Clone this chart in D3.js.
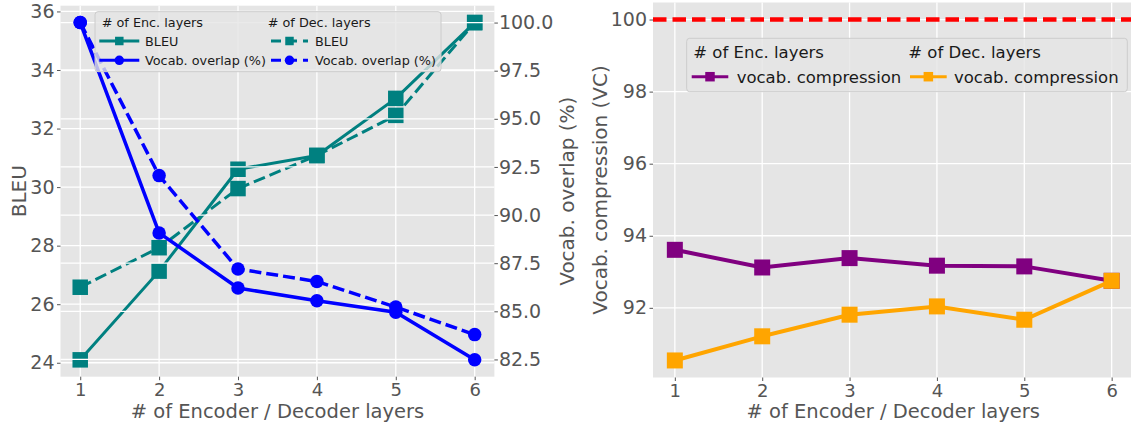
<!DOCTYPE html>
<html>
   <head>
      <script src="https://d3js.org/d3.v7.min.js"></script>
   </head>

   <style>
      body { margin: 0; background: #fff; }
      text { font-family: 'DejaVu Sans', sans-serif; }
   </style>
   <body>
      <script>
         // data
         let layers = [1, 2, 3, 4, 5, 6];
         let bleuEnc = [24.1, 27.13, 30.61, 31.08, 33.03, 35.62];
         let bleuDec = [26.58, 27.93, 29.95, 31.08, 32.45, 35.62];
         let overlapEnc = [100.0, 89.07, 86.21, 85.55, 84.95, 82.48];
         let overlapDec = [100.0, 92.05, 87.2, 86.55, 85.22, 83.79];
         let vcEnc = [93.61, 93.12, 93.38, 93.17, 93.15, 92.75];
         let vcDec = [90.54, 91.21, 91.81, 92.04, 91.67, 92.75];
         let vcRef = 100;
         let bleuTicks = [24, 26, 28, 30, 32, 34, 36];
         let overlapTicks = [82.5, 85, 87.5, 90, 92.5, 95, 97.5, 100];
         let vcTicks = [92, 94, 96, 98, 100];

         let bg = '#E5E5E5', tickColor = '#555555';
         let teal = '#008080', blue = '#0000FF', purple = '#800080', orange = '#FFA500';

         // matplotlib style 5% margin around the data
         let pad = (vals) => {
            let [lo, hi] = d3.extent(vals);
            let m = (hi - lo) * 0.05;
            return [lo - m, hi + m];
         };

         let svg = d3.select('body').append('svg').attr('width', 1131).attr('height', 426);

         let L = {x0: 60.5, x1: 494.4, y0: 5.7, y1: 376.7};
         let R = {x0: 653, x1: 1133.5, y0: 2.5, y1: 377.5};

         let xL = d3.scaleLinear().domain(pad(layers)).range([L.x0, L.x1]);
         let yBleu = d3.scaleLinear().domain(pad(bleuEnc.concat(bleuDec))).range([L.y1, L.y0]);
         let yOver = d3.scaleLinear().domain(pad(overlapEnc.concat(overlapDec))).range([L.y1, L.y0]);
         let xR = d3.scaleLinear().domain(pad(layers)).range([R.x0, R.x1]);
         let yVC = d3.scaleLinear().domain(pad(vcEnc.concat(vcDec, [vcRef]))).range([R.y1, R.y0]);

         function panelBg(box) {
            svg.append('rect')
               .attr('x', box.x0).attr('y', box.y0)
               .attr('width', box.x1 - box.x0).attr('height', box.y1 - box.y0)
               .attr('fill', bg);
         }

         function hGrid(box, y, ticks) {
            svg.append('g').selectAll('line').data(ticks).enter().append('line')
               .attr('x1', box.x0).attr('x2', box.x1)
               .attr('y1', (d) => y(d)).attr('y2', (d) => y(d))
               .attr('stroke', '#fff').attr('stroke-width', 1.3);
         }

         function vGrid(box, x, ticks) {
            svg.append('g').selectAll('line').data(ticks).enter().append('line')
               .attr('x1', (d) => x(d)).attr('x2', (d) => x(d))
               .attr('y1', box.y0).attr('y2', box.y1)
               .attr('stroke', '#fff').attr('stroke-width', 1.3);
         }

         // one series: line + markers
         function series(x, y, vals, opt) {
            let pts = layers.map((d, i) => [x(d), y(vals[i])]);
            svg.append('path')
               .attr('d', d3.line()(pts))
               .attr('fill', 'none')
               .attr('stroke', opt.color)
               .attr('stroke-width', opt.width)
               .attr('stroke-dasharray', opt.dash || null);
            let g = svg.append('g');
            if (opt.marker === 'circle') {
               g.selectAll('circle').data(pts).enter().append('circle')
                  .attr('cx', (d) => d[0]).attr('cy', (d) => d[1])
                  .attr('r', opt.size / 2).attr('fill', opt.color);
            } else {
               g.selectAll('rect').data(pts).enter().append('rect')
                  .attr('x', (d) => d[0] - opt.size / 2).attr('y', (d) => d[1] - opt.size / 2)
                  .attr('width', opt.size).attr('height', opt.size).attr('fill', opt.color);
            }
         }

         function styleAxis(g, size) {
            g.select('.domain').remove();
            g.selectAll('.tick line').attr('stroke', tickColor);
            g.selectAll('.tick text').attr('fill', tickColor).style('font-size', size + 'px')
               .style('font-family', 'DejaVu Sans');
         }

         function axisLabel(text, x, y, rotate, size) {
            svg.append('text')
               .attr('transform', `translate(${x}, ${y})` + (rotate ? ' rotate(-90)' : ''))
               .attr('text-anchor', 'middle')
               .attr('fill', tickColor)
               .style('font-size', size + 'px')
               .text(text);
         }

         // legend item handle
         function handle(g, x0, x1, y, color, marker, dashed, size) {
            g.append('line')
               .attr('x1', x0).attr('x2', x1).attr('y1', y).attr('y2', y)
               .attr('stroke', color).attr('stroke-width', 3)
               .attr('stroke-dasharray', dashed ? '10,6' : null);
            let cx = (x0 + x1) / 2;
            if (marker === 'circle') {
               g.append('circle').attr('cx', cx).attr('cy', y).attr('r', size / 2).attr('fill', color);
            } else {
               g.append('rect').attr('x', cx - size / 2).attr('y', y - size / 2)
                  .attr('width', size).attr('height', size).attr('fill', color);
            }
         }

         function legendText(g, x, y, text, size) {
            g.append('text').attr('x', x).attr('y', y).attr('dy', '0.36em')
               .attr('fill', '#1a1a1a').style('font-size', size + 'px').text(text);
         }

         function legendBox(g, x, y, w, h) {
            g.append('rect').attr('x', x).attr('y', y).attr('width', w).attr('height', h)
               .attr('rx', 3).attr('fill', 'rgba(229,229,229,0.8)')
               .attr('stroke', '#CCCCCC').attr('stroke-width', 1);
         }

         // ---- left panel ----
         panelBg(L);
         vGrid(L, xL, layers);
         hGrid(L, yBleu, bleuTicks);
         series(xL, yBleu, bleuEnc, {color: teal, width: 3, marker: 'square', size: 15.5});
         series(xL, yBleu, bleuDec, {color: teal, width: 3, marker: 'square', size: 15.5, dash: '12,5'});
         // twin axis grid sits above the teal lines
         hGrid(L, yOver, overlapTicks);
         series(xL, yOver, overlapEnc, {color: blue, width: 3.5, marker: 'circle', size: 13.5});
         series(xL, yOver, overlapDec, {color: blue, width: 3.5, marker: 'circle', size: 13.5, dash: '12,5'});

         let legL = svg.append('g');
         legendBox(legL, 95, 11.7, 346, 60);
         legendText(legL, 101.7, 22, '# of Enc. layers', 12.8);
         legendText(legL, 267.7, 22, '# of Dec. layers', 12.8);
         handle(legL, 99.3, 139.3, 41, teal, 'square', false, 8.5);
         legendText(legL, 145, 41, 'BLEU', 12.8);
         handle(legL, 99.3, 139.3, 60.3, blue, 'circle', false, 9.5);
         legendText(legL, 145, 60.3, 'Vocab. overlap (%)', 12.8);
         handle(legL, 271, 308, 41, teal, 'square', true, 8.5);
         legendText(legL, 315, 41, 'BLEU', 12.8);
         handle(legL, 271, 308, 60.3, blue, 'circle', true, 9.5);
         legendText(legL, 315, 60.3, 'Vocab. overlap (%)', 12.8);

         let axXL = svg.append('g').attr('transform', `translate(0, ${L.y1})`)
            .call(d3.axisBottom(xL).tickValues(layers).tickFormat(d3.format('d')).tickSize(3.5).tickPadding(3.5));
         styleAxis(axXL, 18);
         let axYL = svg.append('g').attr('transform', `translate(${L.x0}, 0)`)
            .call(d3.axisLeft(yBleu).tickValues(bleuTicks).tickFormat(d3.format('d')).tickSize(3.5).tickPadding(2.5));
         styleAxis(axYL, 19);
         let axYR = svg.append('g').attr('transform', `translate(${L.x1}, 0)`)
            .call(d3.axisRight(yOver).tickValues(overlapTicks).tickFormat(d3.format('.1f')).tickSize(3.5).tickPadding(1));
         styleAxis(axYR, 19);

         axisLabel('# of Encoder / Decoder layers', (L.x0 + L.x1) / 2, 418, false, 19.5);
         axisLabel('BLEU', 25.5, (L.y0 + L.y1) / 2, true, 20);
         axisLabel('Vocab. overlap (%)', 574, (L.y0 + L.y1) / 2, true, 20);

         // ---- right panel ----
         panelBg(R);
         vGrid(R, xR, layers);
         hGrid(R, yVC, vcTicks);
         svg.append('line')
            .attr('x1', R.x0).attr('x2', R.x1)
            .attr('y1', yVC(vcRef)).attr('y2', yVC(vcRef))
            .attr('stroke', '#FF0000').attr('stroke-width', 4.5)
            .attr('stroke-dasharray', '13.5,6');
         series(xR, yVC, vcEnc, {color: purple, width: 4, marker: 'square', size: 16});
         series(xR, yVC, vcDec, {color: orange, width: 4, marker: 'square', size: 16});

         let legR = svg.append('g');
         legendBox(legR, 686.7, 38.3, 440.6, 53.4);
         legendText(legR, 693.3, 52.3, '# of Enc. layers', 16.5);
         legendText(legR, 908.3, 52.3, '# of Dec. layers', 16.5);
         handle(legR, 691.7, 728.3, 76.7, purple, 'square', false, 9.5);
         legendText(legR, 736.7, 76.7, 'vocab. compression', 16.5);
         handle(legR, 910, 946.7, 76.7, orange, 'square', false, 9.5);
         legendText(legR, 954, 76.7, 'vocab. compression', 16.5);

         let axXR = svg.append('g').attr('transform', `translate(0, ${R.y1})`)
            .call(d3.axisBottom(xR).tickValues(layers).tickFormat(d3.format('d')).tickSize(3.5).tickPadding(3.5));
         styleAxis(axXR, 18);
         let axYVC = svg.append('g').attr('transform', `translate(${R.x0}, 0)`)
            .call(d3.axisLeft(yVC).tickValues(vcTicks).tickFormat(d3.format('d')).tickSize(3.5).tickPadding(2.5));
         styleAxis(axYVC, 19);

         axisLabel('# of Encoder / Decoder layers', (R.x0 + R.x1) / 2, 418, false, 19.5);
         axisLabel('Vocab. compression (VC)', 606.5, (R.y0 + R.y1) / 2, true, 20);
      </script>
   </body>
</html>
